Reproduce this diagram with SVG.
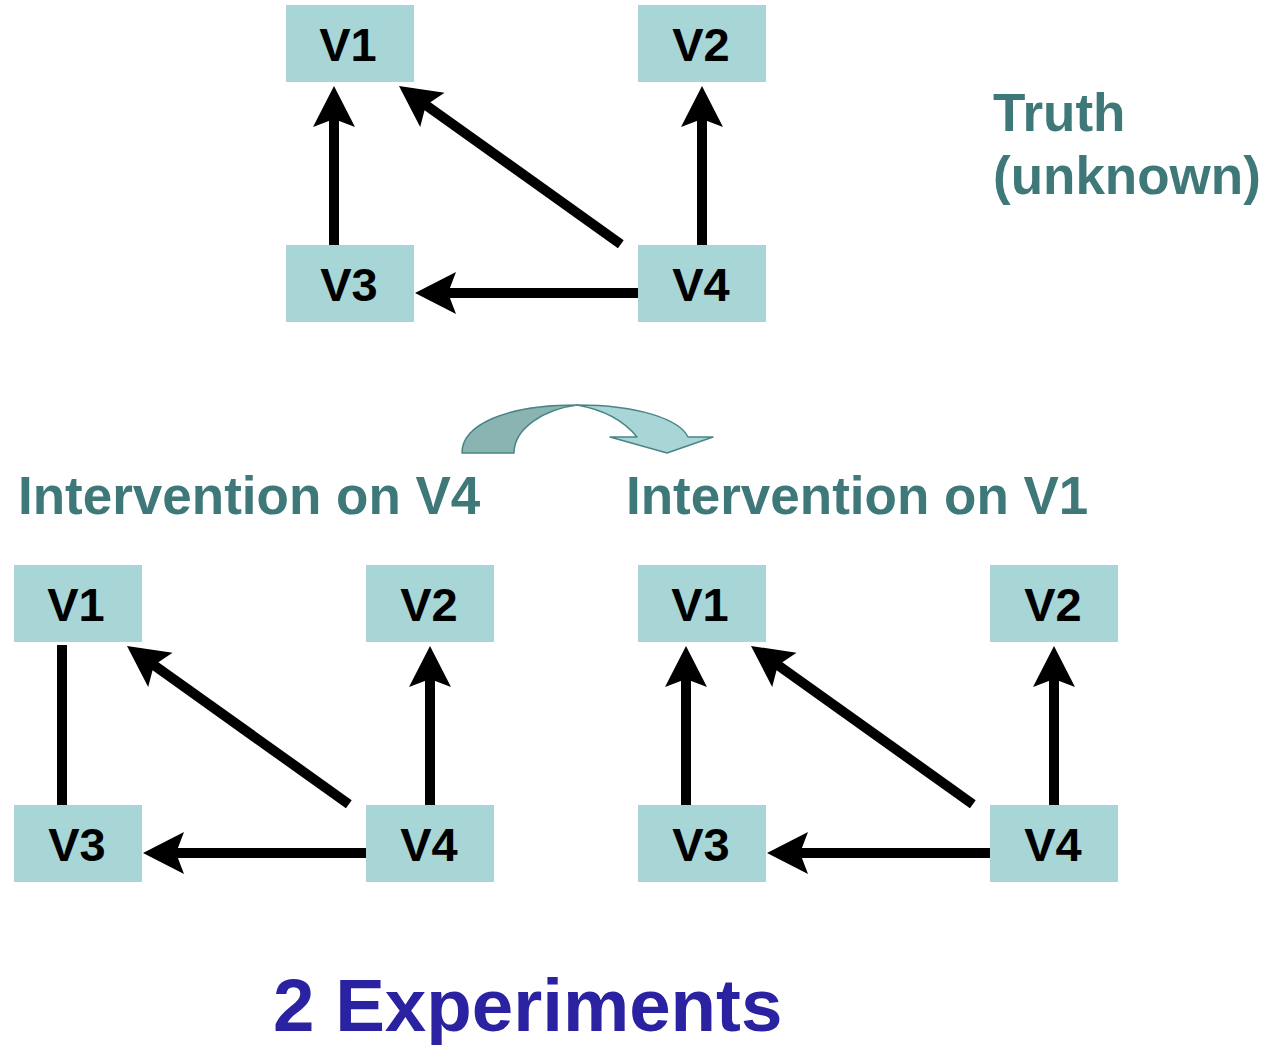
<svg xmlns="http://www.w3.org/2000/svg" xmlns:xlink="http://www.w3.org/1999/xlink" width="1266" height="1045" viewBox="0 0 1266 1045">
  <style>
    .box { fill: #a8d5d5; }
    .lbl { font-family: "Liberation Sans", Arial, sans-serif; font-weight: bold; font-size: 47px; fill: #000; text-anchor: middle; }
    .title { font-family: "Liberation Sans", Arial, sans-serif; font-weight: bold; font-size: 53px; fill: #3f7878; }
    .big { font-family: "Liberation Sans", Arial, sans-serif; font-weight: bold; font-size: 74.5px; fill: #2a22a0; }
    .edge { stroke: #000; stroke-width: 10; fill: none; }
    .head { fill: #000; }
  </style>
  <defs>
    <!-- arrowhead pointing along +x, tip at the origin -->
    <path id="ah" class="head" d="M0,0 L-41,-21 L-33,0 L-41,21 Z"/>
  </defs>

  <!-- top graph -->
  <g id="t-v1"><rect class="box" x="286" y="5" width="128" height="77"/><text class="lbl" x="348" y="61">V1</text></g>
  <g id="t-v2"><rect class="box" x="638" y="5" width="128" height="77"/><text class="lbl" x="701" y="61">V2</text></g>
  <g id="t-v3"><rect class="box" x="286" y="245" width="128" height="77"/><text class="lbl" x="349" y="301">V3</text></g>
  <g id="t-v4"><rect class="box" x="638" y="245" width="128" height="77"/><text class="lbl" x="701" y="301">V4</text></g>

  <!-- bottom-left graph -->
  <g id="l-v1"><rect class="box" x="14" y="565" width="128" height="77"/><text class="lbl" x="76" y="621">V1</text></g>
  <g id="l-v2"><rect class="box" x="366" y="565" width="128" height="77"/><text class="lbl" x="429" y="621">V2</text></g>
  <g id="l-v3"><rect class="box" x="14" y="805" width="128" height="77"/><text class="lbl" x="77" y="861">V3</text></g>
  <g id="l-v4"><rect class="box" x="366" y="805" width="128" height="77"/><text class="lbl" x="429" y="861">V4</text></g>

  <!-- bottom-right graph -->
  <g id="r-v1"><rect class="box" x="638" y="565" width="128" height="77"/><text class="lbl" x="700" y="621">V1</text></g>
  <g id="r-v2"><rect class="box" x="990" y="565" width="128" height="77"/><text class="lbl" x="1053" y="621">V2</text></g>
  <g id="r-v3"><rect class="box" x="638" y="805" width="128" height="77"/><text class="lbl" x="701" y="861">V3</text></g>
  <g id="r-v4"><rect class="box" x="990" y="805" width="128" height="77"/><text class="lbl" x="1053" y="861">V4</text></g>

  <g id="connectors">
    <!-- top -->
    <line class="edge" x1="334" y1="245" x2="334" y2="118"/>
    <use xlink:href="#ah" transform="translate(334,86) rotate(-90)"/>
    <line class="edge" x1="702" y1="245" x2="702" y2="118"/>
    <use xlink:href="#ah" transform="translate(702,86) rotate(-90)"/>
    <line class="edge" x1="638" y1="293" x2="447" y2="293"/>
    <use xlink:href="#ah" transform="translate(415,293) rotate(180)"/>
    <line class="edge" x1="620.8" y1="244.2" x2="425" y2="104.5"/>
    <use xlink:href="#ah" transform="translate(399,86) rotate(215.5)"/>

    <!-- bottom-left -->
    <line class="edge" x1="62" y1="645" x2="62" y2="805"/>
    <line class="edge" x1="430" y1="805" x2="430" y2="678"/>
    <use xlink:href="#ah" transform="translate(430,646) rotate(-90)"/>
    <line class="edge" x1="366" y1="853" x2="175" y2="853"/>
    <use xlink:href="#ah" transform="translate(143,853) rotate(180)"/>
    <line class="edge" x1="348.8" y1="804.2" x2="153" y2="664.5"/>
    <use xlink:href="#ah" transform="translate(127,646) rotate(215.5)"/>

    <!-- bottom-right -->
    <line class="edge" x1="686" y1="805" x2="686" y2="678"/>
    <use xlink:href="#ah" transform="translate(686,646) rotate(-90)"/>
    <line class="edge" x1="1054" y1="805" x2="1054" y2="678"/>
    <use xlink:href="#ah" transform="translate(1054,646) rotate(-90)"/>
    <line class="edge" x1="990" y1="853" x2="799" y2="853"/>
    <use xlink:href="#ah" transform="translate(767,853) rotate(180)"/>
    <line class="edge" x1="972.8" y1="804.2" x2="777" y2="664.5"/>
    <use xlink:href="#ah" transform="translate(751,646) rotate(215.5)"/>
  </g>

  <!-- curved transition arrow -->
  <g id="curved-arrow" stroke="#4a8585" stroke-width="1.5" stroke-linejoin="round">
    <path fill="#8ab4b2" d="M462,453 C462,425 505,405 577,405 C545,409 514,428 514,453 Z"/>
    <path fill="#a8d5d5" d="M577,405 C640,405 680,420 688,437 L713,437 L667,453 L610,437 L637,437 C625,422 605,410 577,405 Z"/>
  </g>

  <!-- captions -->
  <text class="title" x="993" y="131">Truth</text>
  <text class="title" x="993" y="194">(unknown)</text>
  <text class="title" x="18" y="514">Intervention on V4</text>
  <text class="title" x="626" y="514">Intervention on V1</text>
  <text class="big" x="273" y="1031">2 Experiments</text>
</svg>
